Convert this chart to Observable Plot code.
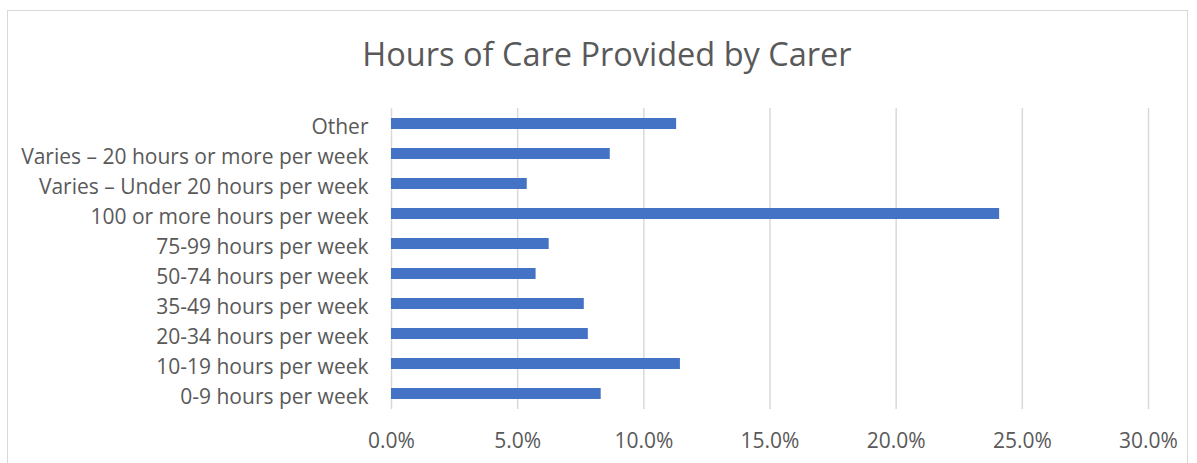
<!DOCTYPE html>
<html>
<head>
<meta charset="utf-8">
<script src="https://cdn.jsdelivr.net/npm/d3@7"></script>
<script src="https://cdn.jsdelivr.net/npm/@observablehq/plot@0.6"></script>
<style>
  html, body { margin: 0; padding: 0; background: #fff; overflow: hidden; }
  #wrap { position: relative; width: 1197px; height: 463px; font-family: "Open Sans", Lato, sans-serif; }
  #border { position: absolute; left: 7px; top: 10px; width: 1181px; height: 470px; border: 1px solid #d9d9d9; box-sizing: border-box; }
  #title { position: absolute; left: 0; top: 38px; width: 1214px; text-align: center; font-size: 32.5px; line-height: 1; color: #595959; white-space: nowrap; }
  #chart { position: absolute; left: 0; top: 0; }
</style>
</head>
<body>
<div id="wrap">
  <div id="border"></div>
  <div id="title">Hours of Care Provided by Carer</div>
  <div id="chart"></div>
</div>
<script>
const categories = [
  "Other",
  "Varies – 20 hours or more per week",
  "Varies – Under 20 hours per week",
  "100 or more hours per week",
  "75-99 hours per week",
  "50-74 hours per week",
  "35-49 hours per week",
  "20-34 hours per week",
  "10-19 hours per week",
  "0-9 hours per week"
];
const values = [11.3, 8.67, 5.38, 24.1, 6.25, 5.73, 7.64, 7.8, 11.45, 8.31];
const xTicks = [0, 5, 10, 15, 20, 25, 30];

const data = categories.map((c, i) => ({category: c, value: values[i]}));

const chart = Plot.plot({
  width: 1197,
  height: 463,
  marginLeft: 391,
  marginRight: 49,
  marginTop: 108,
  marginBottom: 54,
  style: {fontFamily: "'Open Sans', Lato, sans-serif", fontSize: "21px", color: "#595959", background: "transparent"},
  x: {domain: [0, 30]},
  y: {domain: categories, paddingInner: 0.635, paddingOuter: 0.3175},
  marks: [
    Plot.gridX(xTicks, {stroke: "#d9d9d9", strokeOpacity: 1, strokeWidth: 1.5}),
    Plot.barX(data, {x: "value", y: "category", fill: "#4472C4"}),
    Plot.axisX({ticks: xTicks, tickSize: 0, tickPadding: 24, tickFormat: d => d.toFixed(1) + "%", label: null, fontSize: 21}),
    Plot.axisY({tickSize: 0, tickPadding: 23, dy: 3, label: null, fontSize: 21})
  ]
});
document.getElementById("chart").appendChild(chart);
</script>
</body>
</html>
